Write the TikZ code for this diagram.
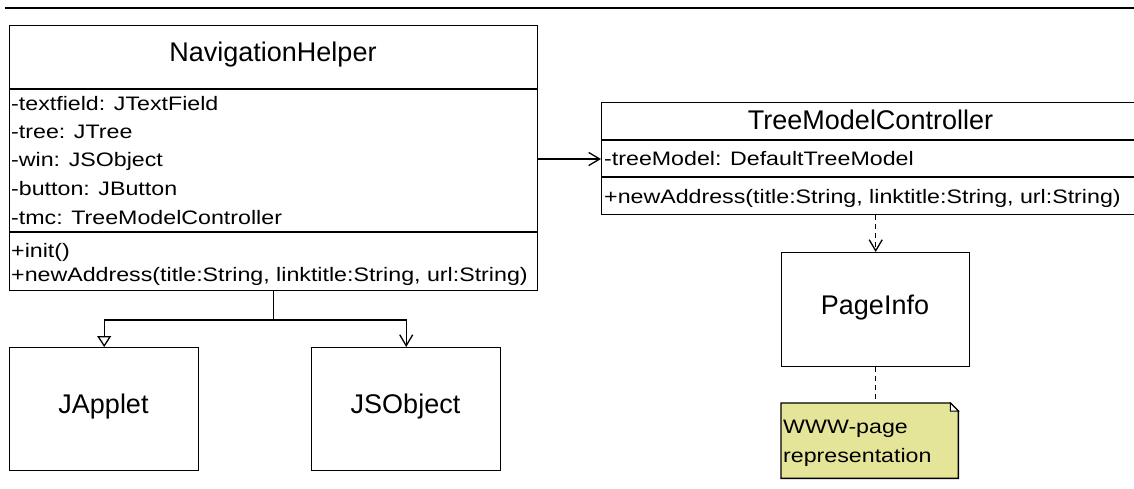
\documentclass[tikz,border=0pt]{standalone}
\usepackage{fontspec}
\setmainfont{Liberation Sans}
\newfontfamily\titlefont{Liberation Sans}
\newfontfamily\memberfont[FakeStretch=1.19]{Liberation Sans}
\usetikzlibrary{arrows.meta,calc}
\definecolor{notefill}{RGB}{229,229,153}

\begin{document}
\begin{tikzpicture}[x=1pt,y=-1pt,
  classbox/.style={draw=black, line width=1.4pt, rectangle, inner sep=0pt, anchor=north west},
  classtitle/.style={font=\titlefont\fontsize{27}{32}\selectfont, inner sep=0pt, text height=19pt, text depth=0pt},
  member/.style={font=\memberfont\fontsize{19.5}{24}\selectfont, inner sep=0pt, anchor=west, text height=14pt, text depth=0pt},
  divider/.style={line width=1.4pt},
  conn/.style={line width=1.3pt},
  assoc/.style={conn, -{Straight Barb[length=11pt,width=13pt,line width=1.3pt]}},
  gen/.style={conn, -{Triangle[open,length=11pt,width=14pt,line width=1.3pt,fill=white]}},
  dep/.style={conn, dash pattern=on 5pt off 4pt},
]
\useasboundingbox (0,0) rectangle (1134,489);
\clip (0,0) rectangle (1134,489);
\fill[white] (0,0) rectangle (1134,489);

% rule across the top
\draw[line width=2.6pt] (5,8) -- (1134,8);

% NavigationHelper
\node[classbox, minimum width=528pt, minimum height=265pt] (nh) at (9,25) {};
\draw[divider] (nh.west |- 0,89) -- (nh.east |- 0,89);
\draw[divider] (nh.west |- 0,232) -- (nh.east |- 0,232);
\node[classtitle] (nhT) at (273,52) {NavigationHelper};
\node[member] (nhA1) at (11,104) {-textfield: JTextField};
\node[member] (nhA2) at (11,132) {-tree: JTree};
\node[member] (nhA3) at (11,160) {-win: JSObject};
\node[member] (nhA4) at (11,189) {-button: JButton};
\node[member] (nhA5) at (11,217) {-tmc: TreeModelController};
\node[member] (nhO1) at (11,250) {+init()};
\node[member] (nhO2) at (11,274) {+newAddress(title:String, linktitle:String, url:String)};

% TreeModelController
\node[classbox, minimum width=539pt, minimum height=112pt] (tmc) at (601,102) {};
\draw[divider] (tmc.west |- 0,140) -- (tmc.east |- 0,140);
\draw[divider] (tmc.west |- 0,177) -- (tmc.east |- 0,177);
\node[classtitle] (tmcT) at (870.5,120) {TreeModelController};
\node[member] (tmcA1) at (604,159) {-treeModel: DefaultTreeModel};
\node[member] (tmcO1) at (604,196) {+newAddress(title:String, linktitle:String, url:String)};

% PageInfo
\node[classbox, minimum width=188pt, minimum height=114pt] (pi) at (781,252) {};
\node[classtitle] (piT) at (875,305) {PageInfo};

% JApplet and JSObject
\node[classbox, minimum width=189pt, minimum height=123pt] (ja) at (9,347) {};
\node[classtitle] (jaT) at (103.5,404) {JApplet};
\node[classbox, minimum width=189pt, minimum height=123pt] (jso) at (311,347) {};
\node[classtitle] (jsoT) at (405.5,404) {JSObject};

% note with folded corner
\node[inner sep=0pt, minimum width=177pt, minimum height=75pt, anchor=north west] (note) at (781,403) {};
\draw[line width=1.4pt, fill=notefill]
  (note.north west) -- ($(note.north east)+(-8,0)$) -- ($(note.north east)+(0,8)$)
  -- (note.south east) -- (note.south west) -- cycle;
\draw[line width=1pt, fill=white]
  ($(note.north east)+(-8,0)$) -- ($(note.north east)+(-8,8)$) -- ($(note.north east)+(0,8)$) -- cycle;
\node[member, anchor=base west] (noteL1) at (783,433) {WWW-page};
\node[member, anchor=base west] (noteL2) at (783,462) {representation};

% connectors
\draw[assoc] (nh.east |- tmcA1.west) -- (tmc.west |- tmcA1.west);
\coordinate (fork) at (nh.south |- 0,320);
\draw[conn] (nh.south) -- (fork);
\draw[gen] (fork) -| (ja.north);
\draw[assoc] (fork) -| (jso.north);
\draw[dep, -{Straight Barb[length=11pt,width=13pt,line width=1.3pt]}] (pi.north |- tmc.south) -- (pi.north);
\draw[dep] (pi.south) -- (pi.south |- note.north);
\end{tikzpicture}
\end{document}
